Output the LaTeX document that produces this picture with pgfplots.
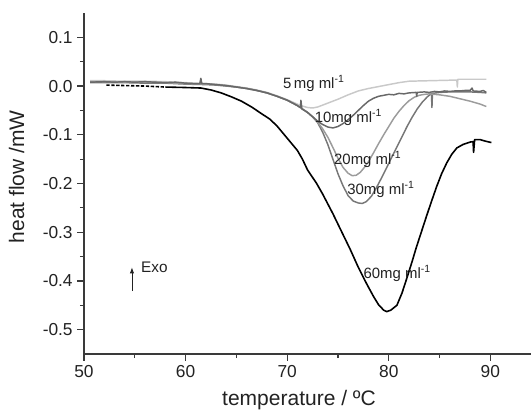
\documentclass[border=0pt]{standalone}
\usepackage{fontspec}
\setmainfont{Liberation Sans}
\usepackage{pgfplots}
\pgfplotsset{compat=1.18}
\usetikzlibrary{arrows.meta}

\definecolor{axisgray}{HTML}{3A3A3A}
\definecolor{textgray}{HTML}{222222}
\definecolor{cfive}{HTML}{C9C9C9}
\definecolor{cten}{HTML}{686868}
\definecolor{ctwenty}{HTML}{9C9C9C}
\definecolor{cthirty}{HTML}{777777}

\begin{document}
\begin{tikzpicture}
\begin{axis}[
  at={(0,0)}, anchor=south west,
  scale only axis, width=335.25pt, height=255.75pt,
  xmin=50, xmax=94, ymin=-0.55, ymax=0.15,
  axis lines=left,
  axis line style={-, axisgray, line width=1.1pt},
  xtick={50,60,70,80,90},
  ytick={-0.5,-0.4,-0.3,-0.2,-0.1,0,0.1},
  minor x tick num=1, minor y tick num=1,
  tick align=outside, major tick length=5pt, minor tick length=3pt,
  every tick/.style={axisgray, line width=0.9pt},
  /pgf/number format/assume math mode=true,
  ticklabel style={font=\fontsize{13}{15}\selectfont, text=textgray},
  yticklabel style={/pgf/number format/.cd, fixed, fixed zerofill, precision=1},
  xticklabel style={/pgf/number format/.cd, fixed, precision=0},
  xlabel={temperature / ºC},
  ylabel={heat flow /mW},
  label style={font=\fontsize{15.75}{18}\selectfont, text=textgray},
  xlabel style={at={(axis description cs:0.481,0)}, anchor=base, yshift=-38.5pt},
  ylabel style={at={(axis description cs:-0.134,0.52)}, anchor=base},
  clip=false,
  every axis plot/.append style={line join=round},
]

% 5 mg/ml
\addplot[cfive, line width=1.1pt] coordinates {
 (50.6,0.011) (52,0.011) (54,0.010) (56,0.010) (58,0.009) (60,0.007) (62,0.005)
 (63,0.004) (64,0.002) (65,-0.001) (66,-0.004) (67,-0.008) (68,-0.013) (69,-0.020)
 (70,-0.028) (71,-0.037) (71.5,-0.041) (72,-0.044) (72.5,-0.045) (73,-0.043)
 (74,-0.035) (75,-0.027) (76,-0.018) (77,-0.010) (78,-0.005) (79,-0.001)
 (80,0.003) (81,0.007) (82,0.010) (84,0.011) (86,0.012) (86.7,0.012)
 (86.75,-0.002) (86.8,0.014) (88,0.014) (89.6,0.014)
};

% 30 mg/ml
\addplot[cthirty, line width=1.1pt] coordinates {
 (50.6,0.007) (52,0.007) (54,0.007) (56,0.006) (58,0.006) (60,0.004) (62,0.003)
 (63,0.002) (64,0.000) (65,-0.002) (66,-0.005) (67,-0.009) (68,-0.014) (69,-0.021)
 (70,-0.029) (71,-0.040) (72,-0.054) (72.5,-0.063) (73,-0.075) (73.5,-0.095)
 (74,-0.120) (74.5,-0.150) (75,-0.180) (75.5,-0.205) (76,-0.225) (76.5,-0.236)
 (77,-0.240) (77.4,-0.241) (77.8,-0.237) (78.3,-0.226) (78.8,-0.208) (79.3,-0.188)
 (79.8,-0.167) (80.3,-0.146) (80.8,-0.125) (81.3,-0.104) (81.8,-0.083)
 (82.3,-0.064) (82.8,-0.047) (83.3,-0.033) (83.8,-0.022) (84.1,-0.017)
 (84.2,-0.016) (84.25,-0.044) (84.3,-0.015) (85,-0.013) (86,-0.012) (87,-0.012)
 (88,-0.012) (89,-0.013) (89.6,-0.014)
};

% 20 mg/ml
\addplot[ctwenty, line width=1.1pt] coordinates {
 (50.6,0.009) (52,0.009) (54,0.008) (56,0.008) (58,0.007) (60,0.005) (62,0.004)
 (63,0.003) (64,0.001) (65,-0.002) (66,-0.005) (67,-0.009) (68,-0.014) (69,-0.021)
 (70,-0.029) (71,-0.040) (72,-0.054) (72.5,-0.063) (73,-0.074) (73.5,-0.088)
 (74,-0.105) (74.5,-0.126) (75,-0.148) (75.5,-0.167) (76,-0.179) (76.4,-0.184)
 (76.8,-0.183) (77.2,-0.177) (77.6,-0.167) (78,-0.155) (78.5,-0.137)
 (79,-0.118) (79.5,-0.100) (80,-0.083) (80.5,-0.066) (81,-0.052) (81.5,-0.040)
 (82,-0.030) (82.5,-0.023) (83,-0.019) (83.5,-0.017) (84,-0.016) (85,-0.018)
 (86,-0.021) (87,-0.026) (88,-0.031) (89,-0.037) (89.6,-0.042)
};

% 10 mg/ml
\addplot[cten, line width=1.1pt] coordinates {
 (50.6,0.008) (52,0.009) (53,0.008) (54,0.009) (55,0.008) (56,0.009) (57,0.008)
 (58,0.007) (59,0.008) (60,0.006) (61,0.005) (61.4,0.005) (61.5,0.016) (61.6,0.005)
 (62,0.005) (63,0.003) (64,0.001) (65,-0.002) (66,-0.005) (67,-0.009)
 (68,-0.014) (69,-0.021) (70,-0.029) (71,-0.040) (71.3,-0.044) (71.35,-0.029)
 (71.45,-0.047) (72,-0.054) (72.5,-0.063) (73,-0.072) (73.5,-0.079)
 (74,-0.084) (74.5,-0.086) (75,-0.083) (75.5,-0.077) (76,-0.069) (76.5,-0.060)
 (77,-0.050) (77.5,-0.040) (78,-0.031) (78.5,-0.025) (79,-0.021) (79.5,-0.019)
 (80,-0.017) (80.5,-0.018) (81,-0.015) (81.5,-0.016) (82,-0.014) (82.7,-0.013)
 (82.75,-0.021) (82.8,-0.013) (83.5,-0.012) (84,-0.013) (84.5,-0.011)
 (85,-0.012) (85.5,-0.010) (86,-0.011) (86.5,-0.010) (87,-0.010) (87.5,-0.009)
 (88,-0.009) (88.2,-0.004) (88.3,-0.010) (89,-0.011) (89.3,-0.009)
 (89.6,-0.013)
};

% 60 mg/ml
\addplot[black, line width=1.2pt, dash pattern=on 2.5pt off 1.2pt] coordinates {
 (52.2,0.002) (54,0.001) (56,0.000) (58,-0.002)
};
\addplot[black, line width=1.2pt] coordinates {
 (58,-0.002) (60,-0.003) (61.5,-0.004) (62.5,-0.008) (63.5,-0.014) (64.5,-0.022)
 (65.5,-0.031) (66.5,-0.043) (67.5,-0.057) (68.3,-0.068) (69,-0.082)
 (70,-0.107) (71,-0.132) (71.5,-0.150) (72,-0.172) (72.9,-0.200) (73.5,-0.222)
 (74.5,-0.262) (75.5,-0.305) (76.2,-0.335) (77,-0.372) (77.8,-0.405)
 (78.5,-0.432) (79,-0.449) (79.5,-0.460) (79.8,-0.463) (80.2,-0.460)
 (80.8,-0.450) (81.3,-0.425) (81.8,-0.393) (82.3,-0.360) (82.7,-0.332)
 (83.2,-0.300) (83.7,-0.268) (84.2,-0.237) (84.7,-0.207) (85.2,-0.180)
 (85.7,-0.158) (86.2,-0.140) (86.7,-0.127) (87.3,-0.120) (88.0,-0.115)
 (88.3,-0.114) (88.35,-0.136) (88.45,-0.110) (89,-0.110) (89.5,-0.113)
 (90.1,-0.116)
};

% concentration labels
\begin{scope}[every node/.style={anchor=base west, inner sep=0pt, text=textgray,
    font=\fontsize{11.2}{13}\selectfont}]
\node at (axis cs:69.57,-0.004) {5\,mg ml\textsuperscript{-1}};
\node at (axis cs:72.7,-0.074) {10mg ml\textsuperscript{-1}};
\node at (axis cs:74.6,-0.160) {20mg ml\textsuperscript{-1}};
\node at (axis cs:75.9,-0.222) {30mg ml\textsuperscript{-1}};
\node at (axis cs:77.5,-0.394) {60mg ml\textsuperscript{-1}};
\node[font=\fontsize{11.5}{13}\selectfont] at (axis cs:55.6,-0.382) {Exo};
\end{scope}
\draw[textgray, line width=0.6pt, -{Latex[length=4.5pt,width=3.2pt]}]
  (axis cs:54.72,-0.421) -- (axis cs:54.72,-0.372);
\end{axis}
\pgfresetboundingbox
\path[use as bounding box] (-63pt,-42pt) rectangle (335.25pt,265.5pt);
\end{tikzpicture}
\end{document}
